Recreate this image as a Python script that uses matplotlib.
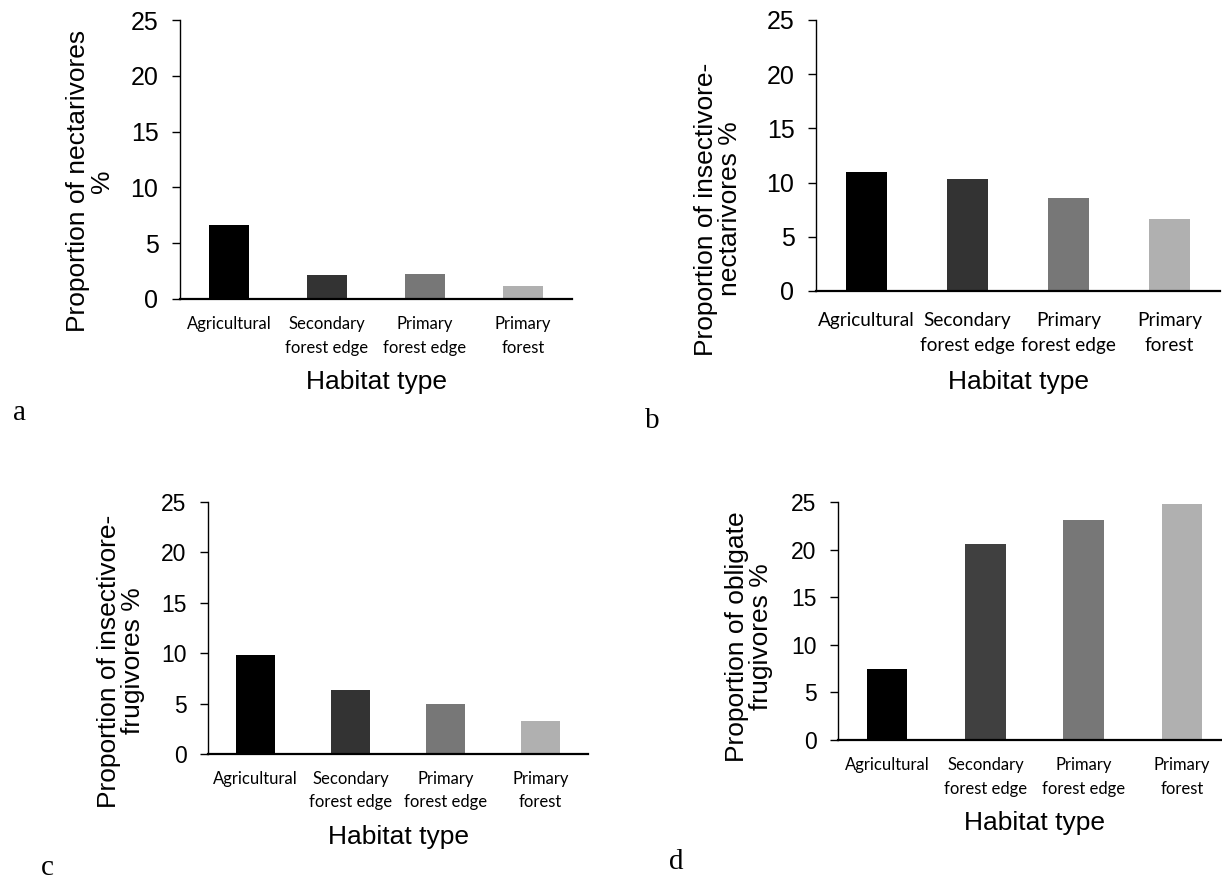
import matplotlib
matplotlib.use("Agg")
from matplotlib import pyplot as plt

W, H = 1222, 884

habitats = ["Agricultural", "Secondary\nforest edge", "Primary\nforest edge", "Primary\nforest"]
bar_colors = ["#000000", "#333333", "#777777", "#b0b0b0"]

nectarivores = [6.63, 2.15, 2.24, 1.16]
insect_nectarivores = [10.98, 10.33, 8.58, 6.64]
insect_frugivores = [9.82, 6.35, 4.96, 3.27]
obligate_frugivores = [7.5, 20.57, 23.08, 24.76]

y_ticks = [0, 5, 10, 15, 20, 25]


def draw_panel(fig, box, values, ylabel, ylab_xy, xlab_y, letter, letter_xy,
               tick_size, xtick_size, xpad, colors=bar_colors):
    # box = (left, top, right, bottom) in pixels of the figure
    l, t, r, b = box
    ax = fig.add_axes([l / W, 1 - b / H, (r - l) / W, (b - t) / H])
    ax.bar(range(len(habitats)), values, width=0.41, color=colors)
    ax.set_xlim(-0.5, len(habitats) - 0.5)
    ax.set_ylim(0, 25)
    ax.set_yticks(y_ticks)
    ax.set_xticks(range(len(habitats)))
    ax.set_xticklabels(habitats, fontsize=xtick_size, family="Lato",
                       linespacing=1.55)
    ax.tick_params(axis="x", length=0, pad=xpad)
    ax.tick_params(axis="y", length=5.5, width=1, labelsize=tick_size, pad=10)
    for s in ["top", "right"]:
        ax.spines[s].set_visible(False)
    ax.spines["left"].set_linewidth(1)
    ax.spines["bottom"].set_linewidth(1.6)

    ax.set_ylabel(ylabel, fontsize=19, linespacing=1.05)
    ax.yaxis.label.set_va("center")
    ax.yaxis.set_label_coords((ylab_xy[0] - l) / (r - l),
                              (b - ylab_xy[1]) / (b - t))
    ax.set_xlabel("Habitat type", fontsize=19)
    ax.xaxis.label.set_va("center")
    ax.xaxis.set_label_coords(0.5, (b - xlab_y) / (b - t))

    fig.text(letter_xy[0] / W, 1 - letter_xy[1] / H, letter,
             family="Liberation Serif", fontsize=21, ha="center", va="baseline")
    return ax


def main():
    plt.rcParams["font.family"] = ["Liberation Sans", "DejaVu Sans"]
    fig = plt.figure(figsize=(W / 100, H / 100), dpi=100)

    draw_panel(fig, (180, 20, 572, 299), nectarivores,
               "Proportion of nectarivores\n%", (90, 181), 382,
               "a", (19, 420), 18, 12, 12.5)
    draw_panel(fig, (816, 20, 1220, 291), insect_nectarivores,
               "Proportion of insectivore-\nnectarivores %", (718, 209), 382,
               "b", (652, 428), 18, 13.7, 15)
    draw_panel(fig, (208, 502, 588, 754), insect_frugivores,
               "Proportion of insectivore-\nfrugivores %", (121, 661), 837,
               "c", (47, 875), 16.5, 12, 12)
    draw_panel(fig, (838, 502, 1231, 740), obligate_frugivores,
               "Proportion of obligate\nfrugivores %", (749, 637), 823,
               "d", (676, 869), 16.5, 12, 12.5,
               colors=["#000000", "#404040", "#777777", "#b0b0b0"])

    fig.savefig("out.png", dpi=100)


if __name__ == "__main__":
    main()
